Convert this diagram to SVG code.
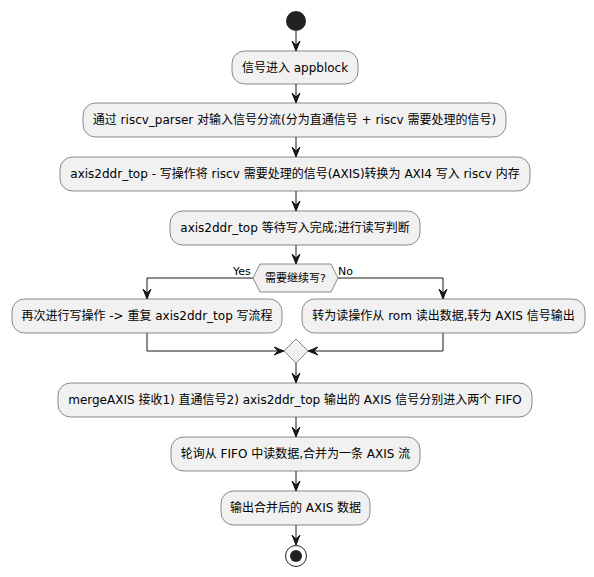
<svg xmlns="http://www.w3.org/2000/svg" width="594" height="577" viewBox="0 0 594 577">
<defs>
<style>
.box{fill:#F1F1F1;stroke:#181818;stroke-width:0.5}
.t{font-family:"DejaVu Sans","Noto Sans CJK SC",sans-serif;font-size:12px;fill:#000;text-anchor:middle}
.s{font-family:"DejaVu Sans","Noto Sans CJK SC",sans-serif;font-size:11px;fill:#000}
.ln{fill:none;stroke:#181818;stroke-width:1}
.ah{fill:#181818;stroke:#181818;stroke-width:1}
</style>
</defs>
<rect width="594" height="577" fill="#FFFFFF"/>
<g id="start"><circle cx="296" cy="21" r="10" fill="#222222"/></g>
<g id="n1"><rect class="box" x="232" y="51" width="126" height="33" rx="12.5"/><text class="t" x="295" y="71.5">信号进入 appblock</text></g>
<g id="n2"><rect class="box" x="83" y="103" width="423" height="34" rx="12.5"/><text class="t" x="294.5" y="124">通过 riscv_parser 对输入信号分流(分为直通信号 + riscv 需要处理的信号)</text></g>
<g id="n3"><rect class="box" x="60" y="157" width="470" height="34" rx="12.5"/><text class="t" x="295" y="178">axis2ddr_top - 写操作将 riscv 需要处理的信号(AXIS)转换为 AXI4 写入 riscv 内存</text></g>
<g id="n4"><rect class="box" x="170" y="211" width="250" height="34" rx="12.5"/><text class="t" x="295" y="232">axis2ddr_top 等待写入完成;进行读写判断</text></g>
<g id="d1"><polygon class="box" points="253,278 260,264 331,264 338,278 331,292 260,292"/><text class="s" x="295.5" y="282" text-anchor="middle">需要继续写?</text></g>
<g id="n5"><rect class="box" x="12" y="299" width="270" height="34" rx="12.5"/><text class="t" x="147" y="320">再次进行写操作 -&gt; 重复 axis2ddr_top 写流程</text></g>
<g id="n6"><rect class="box" x="302" y="299" width="283" height="34" rx="12.5"/><text class="t" x="443.5" y="320">转为读操作从 rom 读出数据,转为 AXIS 信号输出</text></g>
<g id="merge"><polygon class="box" points="296,339 308,351 296,363 284,351"/></g>
<g id="n7"><rect class="box" x="58" y="383" width="474" height="34" rx="12.5"/><text class="t" x="295" y="404">mergeAXIS 接收1) 直通信号2) axis2ddr_top 输出的 AXIS 信号分别进入两个 FIFO</text></g>
<g id="n8"><rect class="box" x="171" y="437" width="249" height="34" rx="12.5"/><text class="t" x="295.5" y="458">轮询从 FIFO 中读数据,合并为一条 AXIS 流</text></g>
<g id="n9"><rect class="box" x="221" y="491" width="149" height="34" rx="12.5"/><text class="t" x="295.5" y="512">输出合并后的 AXIS 数据</text></g>
<g id="end"><circle cx="296" cy="556" r="10.5" fill="none" stroke="#222222" stroke-width="1"/><circle cx="296" cy="556" r="6" fill="#222222"/></g>
<g id="connectors">
<line class="ln" x1="296" y1="31" x2="296" y2="50"/><polygon class="ah" points="292,41 296,51 300,41 296,45"/>
<line class="ln" x1="296" y1="84" x2="296" y2="102"/><polygon class="ah" points="292,93 296,103 300,93 296,97"/>
<line class="ln" x1="296" y1="137" x2="296" y2="156"/><polygon class="ah" points="292,147 296,157 300,147 296,151"/>
<line class="ln" x1="296" y1="191" x2="296" y2="210"/><polygon class="ah" points="292,201 296,211 300,201 296,205"/>
<line class="ln" x1="296" y1="245" x2="296" y2="263"/><polygon class="ah" points="292,254 296,264 300,254 296,258"/>
<polyline class="ln" points="253,278 147,278 147,298"/><polygon class="ah" points="143,289 147,299 151,289 147,293"/>
<polyline class="ln" points="338,278 443,278 443,298"/><polygon class="ah" points="439,289 443,299 447,289 443,293"/>
<polyline class="ln" points="147,333 147,351 283,351"/><polygon class="ah" points="274,347 284,351 274,355 278,351"/>
<polyline class="ln" points="443,333 443,351 309,351"/><polygon class="ah" points="318,347 308,351 318,355 314,351"/>
<line class="ln" x1="296" y1="363" x2="296" y2="382"/><polygon class="ah" points="292,373 296,383 300,373 296,377"/>
<line class="ln" x1="296" y1="417" x2="296" y2="436"/><polygon class="ah" points="292,427 296,437 300,427 296,431"/>
<line class="ln" x1="296" y1="471" x2="296" y2="490"/><polygon class="ah" points="292,481 296,491 300,481 296,485"/>
<line class="ln" x1="296" y1="525" x2="296" y2="544"/><polygon class="ah" points="292,535 296,545 300,535 296,539"/>
<text class="s" x="233" y="275">Yes</text>
<text class="s" x="338" y="275">No</text>
</g>
</svg>
